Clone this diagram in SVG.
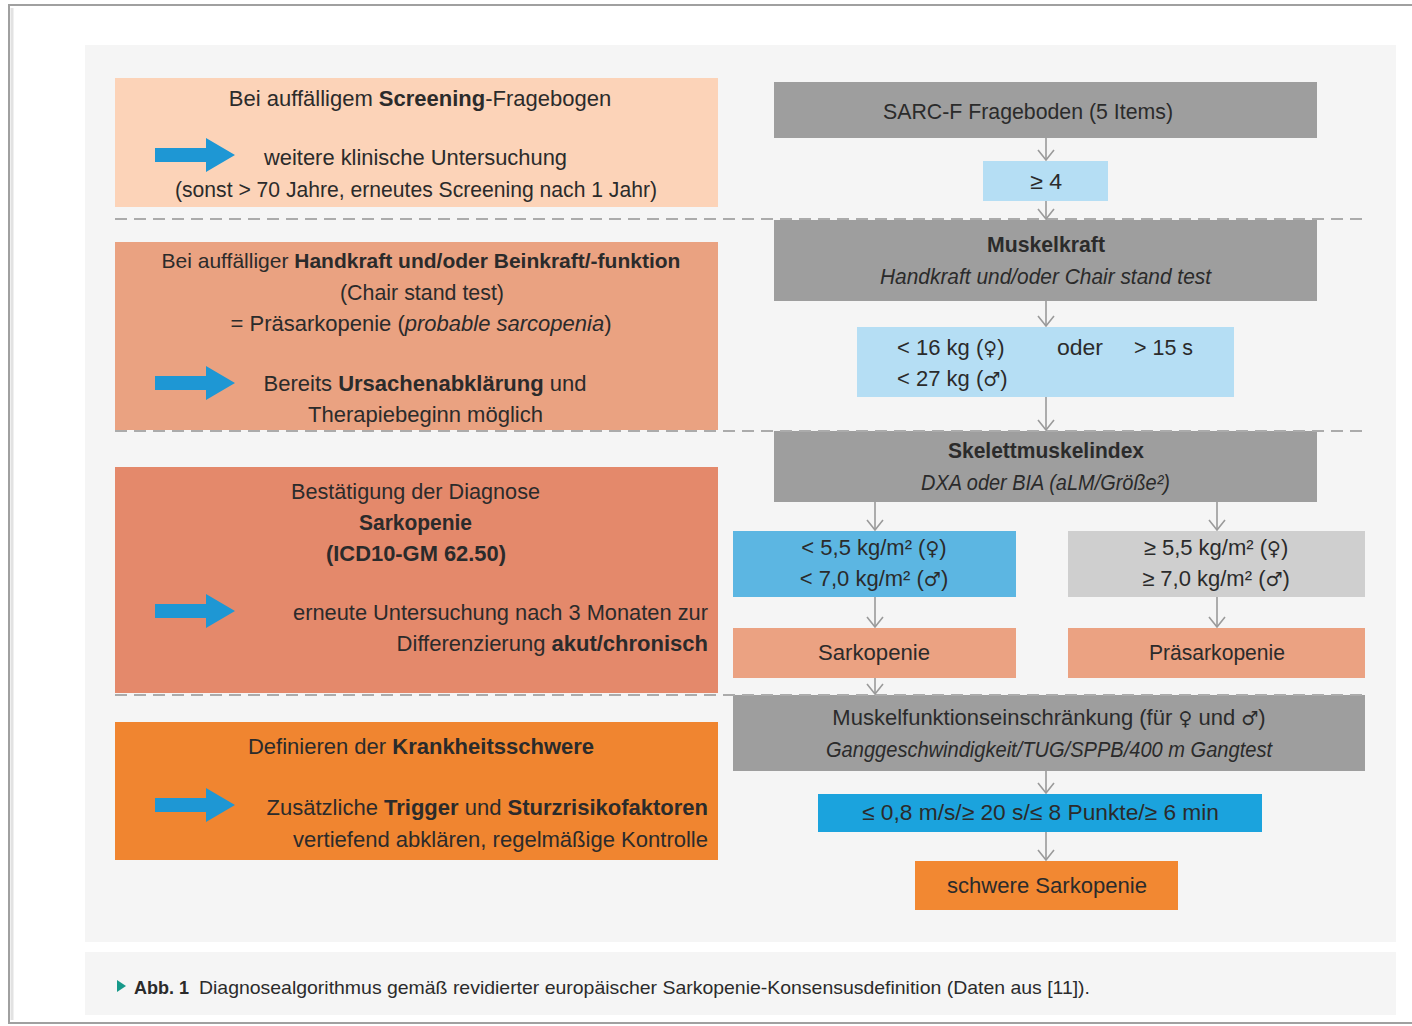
<svg xmlns="http://www.w3.org/2000/svg" width="1412" height="1026" viewBox="0 0 1412 1026">
<style>
text{font-family:"Liberation Sans","DejaVu Sans",sans-serif;font-size:22px;fill:#2b2b2b}
.b{font-weight:bold}
.i{font-style:italic}
.m{text-anchor:middle}
.e{text-anchor:end}
.sym{font-family:"DejaVu Sans",sans-serif;font-size:19px}
.cap{font-size:19px}
.sep{stroke:#ababab;stroke-width:2;stroke-dasharray:12 7;fill:none}
.con{stroke:#9a9a9a;stroke-width:1.6;fill:none}
.barr{fill:#1e97d4}
</style>
<defs>
<marker id="ah" viewBox="-1 -9 12 18" markerWidth="12" markerHeight="18" refX="10" refY="0" orient="auto" markerUnits="userSpaceOnUse">
<path d="M0,-8 L10,0 L0,8" fill="none" stroke="#9a9a9a" stroke-width="1.6"/>
</marker>
</defs>
<rect x="0" y="0" width="1412" height="1026" fill="#ffffff"/>
<path d="M1412,5 H9 V1023 H1412" fill="none" stroke="#a0a0a0" stroke-width="2"/>
<path d="M12,8 V1020" stroke="#e2e2e2" stroke-width="3"/>
<rect x="85" y="45" width="1311" height="897" fill="#f5f5f5"/>
<rect x="85" y="952" width="1311" height="63" fill="#f5f5f5"/>

<g id="left1">
<rect x="115" y="78" width="603" height="129" fill="#fcd3b8"/>
<polygon class="barr" points="155,148 206,148 206,138 235,155 206,172 206,162 155,162"/>
<text class="m" x="420" y="106">Bei auffälligem <tspan class="b">Screening</tspan>-Fragebogen</text>
<text x="264" y="165" textLength="303" lengthAdjust="spacingAndGlyphs">weitere klinische Untersuchung</text>
<text x="175" y="197" textLength="482" lengthAdjust="spacingAndGlyphs">(sonst &gt; 70 Jahre, erneutes Screening nach 1 Jahr)</text>
</g>

<g id="left2">
<rect x="115" y="242" width="603" height="188" fill="#eaa281"/>
<polygon class="barr" points="155,376 206,376 206,366 235,383 206,400 206,390 155,390"/>
<text class="m" x="421" y="268" style="font-size:21px">Bei auffälliger <tspan class="b">Handkraft und/oder Beinkraft/-funktion</tspan></text>
<text x="340" y="300" textLength="164" lengthAdjust="spacingAndGlyphs">(Chair stand test)</text>
<text class="m" x="421" y="331">= Präsarkopenie (<tspan class="i">probable sarcopenia</tspan>)</text>
<text class="m" x="425" y="391">Bereits <tspan class="b">Ursachenabklärung</tspan> und</text>
<text x="308" y="422" textLength="235" lengthAdjust="spacingAndGlyphs">Therapiebeginn möglich</text>
</g>

<g id="left3">
<rect x="115" y="467" width="603" height="226" fill="#e4896b"/>
<polygon class="barr" points="155,604 206,604 206,594 235,611 206,628 206,618 155,618"/>
<text x="291" y="499" textLength="249" lengthAdjust="spacingAndGlyphs">Bestätigung der Diagnose</text>
<text class="b" x="359" y="530" textLength="113" lengthAdjust="spacingAndGlyphs">Sarkopenie</text>
<text class="b" x="326" y="561" textLength="180" lengthAdjust="spacingAndGlyphs">(ICD10-GM 62.50)</text>
<text x="293" y="620" textLength="415" lengthAdjust="spacingAndGlyphs">erneute Untersuchung nach 3 Monaten zur</text>
<text class="e" x="708" y="651">Differenzierung <tspan class="b">akut/chronisch</tspan></text>
</g>

<g id="left4">
<rect x="115" y="722" width="603" height="138" fill="#f08530"/>
<polygon class="barr" points="155,798 206,798 206,788 235,805 206,822 206,812 155,812"/>
<text class="m" x="421" y="754">Definieren der <tspan class="b">Krankheitsschwere</tspan></text>
<text class="e" x="708" y="815">Zusätzliche <tspan class="b">Trigger</tspan> und <tspan class="b">Sturzrisikofaktoren</tspan></text>
<text x="293" y="847" textLength="415" lengthAdjust="spacingAndGlyphs">vertiefend abklären, regelmäßige Kontrolle</text>
</g>

<g id="sarcf">
<rect x="774" y="82" width="543" height="56" fill="#9e9e9e"/>
<text x="883" y="119" textLength="290" lengthAdjust="spacingAndGlyphs">SARC-F Frageboden (5 Items)</text>
</g>
<g id="ge4">
<rect x="983" y="161" width="125" height="40" fill="#b5def4"/>
<text x="1030" y="189" textLength="32" lengthAdjust="spacingAndGlyphs">≥ 4</text>
</g>
<g id="muskelkraft">
<rect x="774" y="220" width="543" height="81" fill="#9e9e9e"/>
<text class="b" x="987" y="252" textLength="118" lengthAdjust="spacingAndGlyphs">Muskelkraft</text>
<text class="i" x="880" y="284" textLength="331" lengthAdjust="spacingAndGlyphs">Handkraft und/oder Chair stand test</text>
</g>
<g id="kraftwerte">
<rect x="857" y="327" width="377" height="70" fill="#b5def4"/>
<text x="897" y="355">&lt; 16 kg (<tspan class="sym">♀</tspan>)</text>
<text x="1057" y="355" textLength="46" lengthAdjust="spacingAndGlyphs">oder</text>
<text x="1134" y="355" textLength="59" lengthAdjust="spacingAndGlyphs">&gt; 15 s</text>
<text x="897" y="386">&lt; 27 kg (<tspan class="sym">♂</tspan>)</text>
</g>
<g id="smi">
<rect x="774" y="431" width="543" height="71" fill="#9e9e9e"/>
<text class="b" x="948" y="458" textLength="196" lengthAdjust="spacingAndGlyphs">Skelettmuskelindex</text>
<text class="i" x="921" y="490" textLength="249" lengthAdjust="spacingAndGlyphs">DXA oder BIA (aLM/Größe²)</text>
</g>
<g id="smi-low">
<rect x="733" y="531" width="283" height="66" fill="#5cb6e2"/>
<text class="m" x="874" y="555">&lt; 5,5 kg/m² (<tspan class="sym">♀</tspan>)</text>
<text class="m" x="874" y="586">&lt; 7,0 kg/m² (<tspan class="sym">♂</tspan>)</text>
</g>
<g id="smi-high">
<rect x="1068" y="531" width="297" height="66" fill="#cfcfcf"/>
<text class="m" x="1216" y="555">≥ 5,5 kg/m² (<tspan class="sym">♀</tspan>)</text>
<text class="m" x="1216" y="586">≥ 7,0 kg/m² (<tspan class="sym">♂</tspan>)</text>
</g>
<g id="sarkopenie">
<rect x="733" y="628" width="283" height="50" fill="#eba282"/>
<text x="818" y="660" textLength="112" lengthAdjust="spacingAndGlyphs">Sarkopenie</text>
</g>
<g id="praesarkopenie">
<rect x="1068" y="628" width="297" height="50" fill="#eba282"/>
<text x="1149" y="660" textLength="136" lengthAdjust="spacingAndGlyphs">Präsarkopenie</text>
</g>
<g id="muskelfunktion">
<rect x="733" y="695" width="632" height="76" fill="#9e9e9e"/>
<text class="m" x="1049" y="725">Muskelfunktionseinschränkung (für <tspan class="sym">♀</tspan> und <tspan class="sym">♂</tspan>)</text>
<text class="i" x="826" y="757" textLength="446" lengthAdjust="spacingAndGlyphs">Ganggeschwindigkeit/TUG/SPPB/400 m Gangtest</text>
</g>
<g id="funktionswerte">
<rect x="818" y="794" width="444" height="38" fill="#1ba3dd"/>
<text x="862" y="820" textLength="357" lengthAdjust="spacingAndGlyphs">≤ 0,8 m/s/≥ 20 s/≤ 8 Punkte/≥ 6 min</text>
</g>
<g id="schwer">
<rect x="915" y="861" width="263" height="49" fill="#f28832"/>
<text x="947" y="893" textLength="200" lengthAdjust="spacingAndGlyphs">schwere Sarkopenie</text>
</g>

<g id="separators">
<line class="sep" x1="115" y1="219" x2="1365" y2="219"/>
<line class="sep" x1="115" y1="431" x2="1365" y2="431"/>
<line class="sep" x1="115" y1="695" x2="1365" y2="695"/>
</g>

<g id="connectors">
<line class="con" x1="1046" y1="138" x2="1046" y2="160" marker-end="url(#ah)"/>
<line class="con" x1="1046" y1="201" x2="1046" y2="219" marker-end="url(#ah)"/>
<line class="con" x1="1046" y1="301" x2="1046" y2="326" marker-end="url(#ah)"/>
<line class="con" x1="1046" y1="397" x2="1046" y2="430" marker-end="url(#ah)"/>
<line class="con" x1="875" y1="502" x2="875" y2="530" marker-end="url(#ah)"/>
<line class="con" x1="1217" y1="502" x2="1217" y2="530" marker-end="url(#ah)"/>
<line class="con" x1="875" y1="597" x2="875" y2="627" marker-end="url(#ah)"/>
<line class="con" x1="1217" y1="597" x2="1217" y2="627" marker-end="url(#ah)"/>
<line class="con" x1="875" y1="678" x2="875" y2="694" marker-end="url(#ah)"/>
<line class="con" x1="1046" y1="771" x2="1046" y2="793" marker-end="url(#ah)"/>
<line class="con" x1="1046" y1="832" x2="1046" y2="860" marker-end="url(#ah)"/>
</g>

<g id="caption">
<polygon points="117,980 126,986 117,992" fill="#17998a"/>
<text class="cap b" x="134" y="994" textLength="55" lengthAdjust="spacingAndGlyphs">Abb. 1</text>
<text class="cap" x="199" y="994" textLength="891" lengthAdjust="spacingAndGlyphs">Diagnosealgorithmus gemäß revidierter europäischer Sarkopenie-Konsensusdefinition (Daten aus [11]).</text>
</g>
</svg>
